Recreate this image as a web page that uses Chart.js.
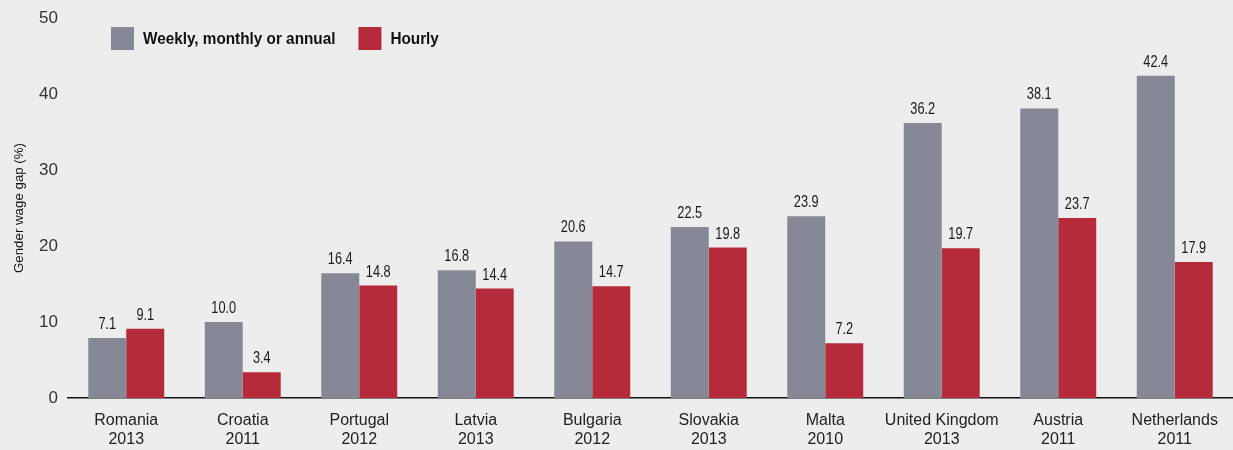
<!DOCTYPE html>
<html>
<head>
<meta charset="utf-8">
<script src="https://cdn.jsdelivr.net/npm/chart.js@4"></script>
<style>
    html, body {
        margin: 0;
        padding: 0;
        background: #ededed;
    }
    #wrap {
        position: relative;
        width: 1233px;
        height: 450px;
    }
</style>
</head>
<body>
<div id="wrap">
    <canvas id="chart"></canvas>
</div>
<script>
const countries = ['Romania', 'Croatia', 'Portugal', 'Latvia', 'Bulgaria', 'Slovakia', 'Malta', 'United Kingdom', 'Austria', 'Netherlands'];
const years = ['2013', '2011', '2012', '2013', '2012', '2013', '2010', '2013', '2011', '2011'];

// bar heights as drawn (the Romania grey bar is drawn taller than its 7.1 label)
const weeklyValues = [7.9, 10.0, 16.4, 16.8, 20.6, 22.5, 23.9, 36.2, 38.1, 42.4];
const hourlyValues = [9.1, 3.4, 14.8, 14.4, 14.7, 19.8, 7.2, 19.7, 23.7, 17.9];
const weeklyLabels = ['7.1', '10.0', '16.4', '16.8', '20.6', '22.5', '23.9', '36.2', '38.1', '42.4'];
const hourlyLabels = ['9.1', '3.4', '14.8', '14.4', '14.7', '19.8', '7.2', '19.7', '23.7', '17.9'];

const seriesNames = ['Weekly, monthly or annual', 'Hourly'];
const yTicks = [0, 10, 20, 30, 40, 50];

const grey = '#878896';
const red = '#b52b3c';

const mainFont = '"Liberation Sans", Arial, sans-serif';

// text squeezed sideways, to look like the condensed face of the original
function narrowText(ctx, text, x, y, squeeze) {
    ctx.save();
    ctx.translate(x, y);
    ctx.scale(squeeze, 1);
    ctx.fillText(text, 0, 0);
    ctx.restore();
}

const valueLabels = {
    id: 'valueLabels',
    afterDatasetsDraw(chart) {
        const ctx = chart.ctx;
        const texts = [weeklyLabels, hourlyLabels];
        ctx.save();
        ctx.font = '17px ' + mainFont;
        ctx.fillStyle = '#1a1a1a';
        ctx.textAlign = 'center';
        ctx.textBaseline = 'alphabetic';
        chart.data.datasets.forEach((ds, i) => {
            chart.getDatasetMeta(i).data.forEach((bar, j) => {
                narrowText(ctx, texts[i][j], bar.x, bar.y - 9, 0.75);
            });
        });
        ctx.restore();
    }
};

const innerLegend = {
    id: 'innerLegend',
    afterDraw(chart) {
        const ctx = chart.ctx;
        const colors = [grey, red];
        const squeeze = 0.9;
        let x = 111;
        const y = 27;
        const box = 23;
        ctx.save();
        ctx.font = 'bold 17px ' + mainFont;
        ctx.textBaseline = 'middle';
        ctx.textAlign = 'left';
        seriesNames.forEach((name, i) => {
            ctx.fillStyle = colors[i];
            ctx.fillRect(x, y, box, box);
            ctx.fillStyle = '#111';
            narrowText(ctx, name, x + box + 9, y + box / 2 + 1, squeeze);
            x += box + 9 + ctx.measureText(name).width * squeeze + 23;
        });
        ctx.restore();
    }
};

new Chart(document.getElementById('chart'), {
    type: 'bar',
    data: {
        labels: countries.map((c, i) => [c, years[i]]),
        datasets: [{
            label: seriesNames[0],
            data: weeklyValues,
            backgroundColor: grey,
            categoryPercentage: 0.652,
            barPercentage: 1
        }, {
            label: seriesNames[1],
            data: hourlyValues,
            backgroundColor: red,
            categoryPercentage: 0.652,
            barPercentage: 1
        }]
    },
    options: {
        responsive: true,
        maintainAspectRatio: false,
        animation: false,
        layout: {
            padding: {top: 18, right: 0, bottom: 0, left: 0}
        },
        plugins: {
            legend: {display: false},
            tooltip: {enabled: false}
        },
        scales: {
            x: {
                grid: {display: false},
                border: {display: true, color: '#111', width: 1.5},
                ticks: {
                    color: '#222',
                    font: {family: mainFont, size: 16, lineHeight: 1.2},
                    padding: 5,
                    maxRotation: 0,
                    autoSkip: false
                },
                afterFit(scale) {
                    scale.height = 52;
                }
            },
            y: {
                min: 0,
                max: 50,
                afterBuildTicks(scale) {
                    scale.ticks = yTicks.map(v => ({value: v}));
                },
                grid: {display: false},
                border: {display: false},
                ticks: {
                    color: '#333',
                    font: {family: mainFont, size: 17},
                    padding: 2
                },
                title: {
                    display: true,
                    text: 'Gender wage gap (%)',
                    color: '#111',
                    font: {family: mainFont, size: 13.3},
                    padding: {top: 11, bottom: 0}
                },
                afterFit(scale) {
                    scale.width = 68;
                }
            }
        }
    },
    plugins: [valueLabels, innerLegend]
});
</script>
</body>
</html>
